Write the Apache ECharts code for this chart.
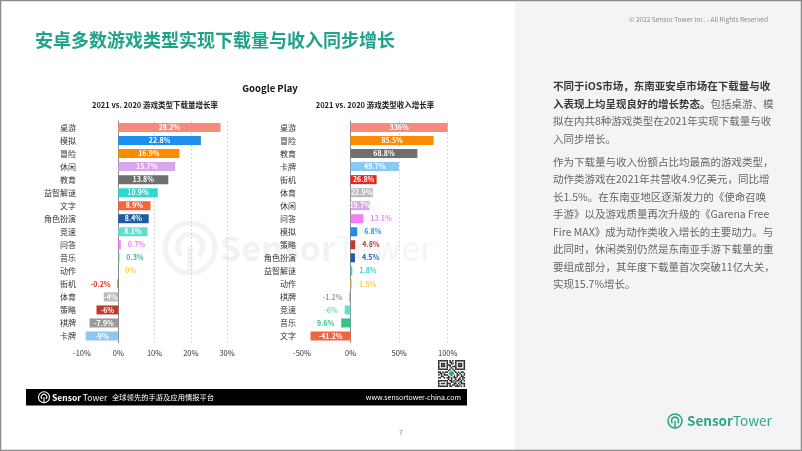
<!DOCTYPE html>
<html><head><meta charset="utf-8">
<script src="https://cdn.jsdelivr.net/npm/echarts@6/dist/echarts.min.js"></script>
<style>html,body{margin:0;padding:0;background:#fff}#c{width:802px;height:451px}</style>
</head><body><div id="c"></div>
<script>
// ---- data ----
const dlCategories = ['桌游','模拟','冒险','休闲','教育','益智解谜','文字','角色扮演','竞速','问答','音乐','动作','街机','体育','策略','棋牌','卡牌'];
const dlValues = [28.2,22.8,16.9,15.7,13.8,10.9,8.9,8.4,8.1,0.7,0.3,0,-0.2,-4,-6,-7.9,-9];
const revCategories = ['桌游','冒险','教育','卡牌','街机','体育','休闲','问答','模拟','策略','角色扮演','益智解谜','动作','棋牌','竞速','音乐','文字'];
const revValues = [336,85.5,68.8,49.7,26.8,22.9,19.7,13.1,6.8,4.8,4.5,1.8,1.5,-1.2,-6,-9.6,-41.2];
const revLabels = ['336%','85.5%','68.8%','49.7%','26.8%','22.9%','19.7%','13.1%','6.8%','4.8%','4.5%','1.8%','1.5%','-1.2%','-6%','9.6%','-41.2%'];
const dlAxis = {min: -10, max: 30, interval: 10};
const revAxis = {min: -50, max: 100, interval: 50};
const genreColors = {
  '桌游':'#F68B7B','模拟':'#1D8FEA','冒险':'#FF8A00','休闲':'#D7A6EC','教育':'#6F6F6F',
  '益智解谜':'#2FD8CE','文字':'#F5633C','角色扮演':'#1D5BA5','竞速':'#64DDCB','问答':'#F37EF2',
  '音乐':'#36C387','动作':'#FFD038','街机':'#E52B1F','体育':'#B9B9B9','策略':'#BE3A2B',
  '棋牌':'#9A9A9A','卡牌':'#8BC9F5'
};
const titleText = '安卓多数游戏类型实现下载量与收入同步增长';
const dlTitle = '2021 vs. 2020 游戏类型下载量增长率';
const revTitle = '2021 vs. 2020 游戏类型收入增长率';

const FONT = '"Noto Sans CJK SC","Noto Sans",sans-serif';
const chart = echarts.init(document.getElementById('c'), null, {renderer: 'canvas'});

function barData(cats, vals, labels, threshold) {
  return vals.map((v, i) => {
    const c = genreColors[cats[i]];
    const inside = Math.abs(v) >= threshold;
    return {
      value: v,
      itemStyle: {color: c},
      label: {
        show: true,
        position: inside ? 'inside' : (v < 0 ? 'left' : 'right'),
        distance: 7,
        color: inside ? '#fff' : c,
        fontWeight: 'bold',
        fontSize: 7,
        fontFamily: FONT,
        formatter: labels ? labels[i] : (v + '%')
      }
    };
  });
}

function valueAxis(gi, ax, nTicks) {
  const cols = [];
  for (let k = 0; k < nTicks; k++) cols.push(k < 2 ? 'rgba(0,0,0,0)' : '#CFCFCF');
  return {
    type: 'value', gridIndex: gi, min: ax.min, max: ax.max, interval: ax.interval,
    axisLine: {show: false}, axisTick: {show: false},
    axisLabel: {formatter: '{value}%', fontSize: 7.5, color: '#333', margin: 7, fontFamily: FONT},
    splitLine: {show: true, lineStyle: {type: [2, 2], color: cols, width: 0.8}}
  };
}
function catAxis(gi, cats) {
  return {
    type: 'category', gridIndex: gi, data: cats, inverse: true,
    axisLine: {show: true, lineStyle: {color: '#8A8A8A', width: 1}},
    axisTick: {show: false},
    axisLabel: {fontSize: 8, color: '#333', margin: 6, fontFamily: FONT}
  };
}

function logoIcon(cx, cy, r, color, lw) {
  return {
    type: 'group', x: cx, y: cy, silent: true,
    children: [
      {type: 'circle', shape: {cx: 0, cy: 0, r: r}, style: {fill: 'none', stroke: color, lineWidth: lw}},
      {type: 'arc', shape: {cx: 0, cy: -r * 0.05, r: r * 0.5, startAngle: Math.PI * 0.75, endAngle: Math.PI * 0.25, clockwise: true}, style: {fill: 'none', stroke: color, lineWidth: lw}},
      {type: 'line', shape: {x1: 0, y1: -r * 0.05, x2: 0, y2: r}, style: {stroke: color, lineWidth: lw}}
    ]
  };
}

const rightLines = [
  {t: '{b|不同于iOS市场，东南亚安卓市场在下载量与收}', y: 86},
  {t: '{b|入表现上均呈现良好的增长势态。}{n|包括桌游、模}', y: 104},
  {t: '{n|拟在内共8种游戏类型在2021年实现下载量与收}', y: 121},
  {t: '{n|入同步增长。}', y: 139},
  {t: '{n|作为下载量与收入份额占比均最高的游戏类型，}', y: 162},
  {t: '{n|动作类游戏在2021年共营收4.9亿美元，同比增}', y: 179.5},
  {t: '{n|长1.5%。在东南亚地区逐渐发力的《使命召唤}', y: 197},
  {t: '{n|手游》以及游戏质量再次升级的《Garena Free}', y: 214.5},
  {t: '{n|Fire MAX》成为动作类收入增长的主要动力。与}', y: 232},
  {t: '{n|此同时，休闲类别仍然是东南亚手游下载量的重}', y: 249.5},
  {t: '{n|要组成部分，其年度下载量首次突破11亿大关，}', y: 267},
  {t: '{n|实现15.7%增长。}', y: 284.5}
];

const graphics = [
  {type: 'rect', z: -10, silent: true, shape: {x: 515, y: 0, width: 287, height: 451}, style: {fill: '#F4F4F4'}},
  // watermark
  {type: 'group', z: -5, silent: true, children: [
    logoIcon(190, 248, 25, '#F3F3F3', 5),
    {type: 'text', x: 220, y: 248, style: {text: '{a|Sensor}{b|Tower}', textVerticalAlign: 'middle',
      rich: {a: {fontSize: 34, fontWeight: 'bold', fill: '#F2F2F2', fontFamily: FONT}, b: {fontSize: 34, fill: '#F5F5F5', fontFamily: FONT}}}}
  ]},
  {type: 'text', x: 35, y: 40, style: {text: titleText, fill: '#1FA38A', font: 'bold 18px ' + FONT, textVerticalAlign: 'middle'}},
  {type: 'text', x: 768, y: 20, style: {text: '© 2022 Sensor Tower Inc. - All Rights Reserved', fill: '#8C8C8C', font: '6.5px ' + FONT, textAlign: 'right', textVerticalAlign: 'middle'}},
  {type: 'text', x: 270, y: 88, style: {text: 'Google Play', fill: '#111', font: 'bold 9.5px ' + FONT, textAlign: 'center', textVerticalAlign: 'middle'}},
  {type: 'text', x: 155, y: 105, style: {text: dlTitle, fill: '#222', font: 'bold 7.5px ' + FONT, textAlign: 'center', textVerticalAlign: 'middle'}},
  {type: 'text', x: 375, y: 105, style: {text: revTitle, fill: '#222', font: 'bold 7.5px ' + FONT, textAlign: 'center', textVerticalAlign: 'middle'}},
  // QR placeholder
  {type: 'group', x: 438, y: 360, silent: true, children: (function () {
    const pat = [
      '1111111010101111111','1000001011001000001','1011101001101011101','1011101110001011101','1011101010111011101','1000001001001000001','1111111010101111111',
      '0000000110110000000','1101011001011010110','0110100111100101001','1010111011110110101','0011000110110100110','1100101101011001011',
      '0000000101001011010','1111111011010110101','1000001001101001100','1011101110011010111','1000001010110101001','1111111011001110101'];
    const els = [];
    const s = 27 / 19;
    pat.forEach((row, r) => row.split('').forEach((ch, c) => { if (ch === '1') els.push({type: 'rect', shape: {x: c * s, y: r * s, width: s + 0.1, height: s + 0.1}, style: {fill: '#222'}}); }));
    els.push({type: 'circle', shape: {cx: 13.5, cy: 13.5, r: 3}, style: {fill: '#2BA58F', stroke: '#fff', lineWidth: 1}});
    return els;
  })()},
  // footer bar
  {type: 'rect', silent: true, shape: {x: 26, y: 389, width: 441, height: 16.5}, style: {fill: '#000'}},
  logoIcon(44, 397.3, 5.5, '#fff', 1.1),
  {type: 'text', x: 52, y: 397.5, style: {text: '{a|Sensor}{b| Tower}', textVerticalAlign: 'middle',
    rich: {a: {fontSize: 8.5, fontWeight: 'bold', fill: '#fff', fontFamily: FONT}, b: {fontSize: 8.5, fill: '#fff', fontFamily: FONT}}}},
  {type: 'text', x: 112, y: 397.5, style: {text: '全球领先的手游及应用情报平台', fill: '#fff', font: '7.3px ' + FONT, textVerticalAlign: 'middle'}},
  {type: 'text', x: 461, y: 397.5, style: {text: 'www.sensortower-china.com', fill: '#fff', font: '7px ' + FONT, textAlign: 'right', textVerticalAlign: 'middle'}},
  {type: 'text', x: 401, y: 432, style: {text: '7', fill: '#888', font: '7px ' + FONT, textAlign: 'center', textVerticalAlign: 'middle'}},
  // bottom-right logo
  logoIcon(675, 421, 7, '#2BA58F', 1.6),
  {type: 'text', x: 687, y: 421, style: {text: '{a|Sensor}{b|Tower}', textVerticalAlign: 'middle',
    rich: {a: {fontSize: 13.5, fontWeight: 'bold', fill: '#2BA58F', fontFamily: FONT}, b: {fontSize: 13.5, fill: '#2BA58F', fontFamily: FONT}}}},
  // border
  {type: 'rect', silent: true, z: 100, shape: {x: 0.5, y: 0.5, width: 801, height: 450}, style: {fill: 'none', stroke: '#8A8A8A', lineWidth: 1.5}}
];
rightLines.forEach(l => graphics.push({type: 'text', x: 553, y: l.y, style: {text: l.t, textVerticalAlign: 'middle',
  rich: {b: {fontSize: 10.5, fontWeight: 'bold', fill: '#3A3A3A', fontFamily: FONT}, n: {fontSize: 10.5, fill: '#666', fontFamily: FONT}}}}));

chart.setOption({
  animation: false,
  backgroundColor: '#fff',
  textStyle: {fontFamily: FONT},
  grid: [
    {left: 82, top: 121, width: 145, height: 221.5, containLabel: false, outerBoundsMode: 'none'},
    {left: 302, top: 121, width: 145.7, height: 221.5, containLabel: false, outerBoundsMode: 'none'}
  ],
  xAxis: [valueAxis(0, dlAxis, 5), valueAxis(1, revAxis, 4)],
  yAxis: [catAxis(0, dlCategories), catAxis(1, revCategories)],
  series: [
    {type: 'bar', xAxisIndex: 0, yAxisIndex: 0, barWidth: 9, data: barData(dlCategories, dlValues, null, 3)},
    {type: 'bar', xAxisIndex: 1, yAxisIndex: 1, barWidth: 9, clip: true, data: barData(revCategories, revValues, revLabels, 15)}
  ],
  graphic: graphics
});
</script></body></html>
